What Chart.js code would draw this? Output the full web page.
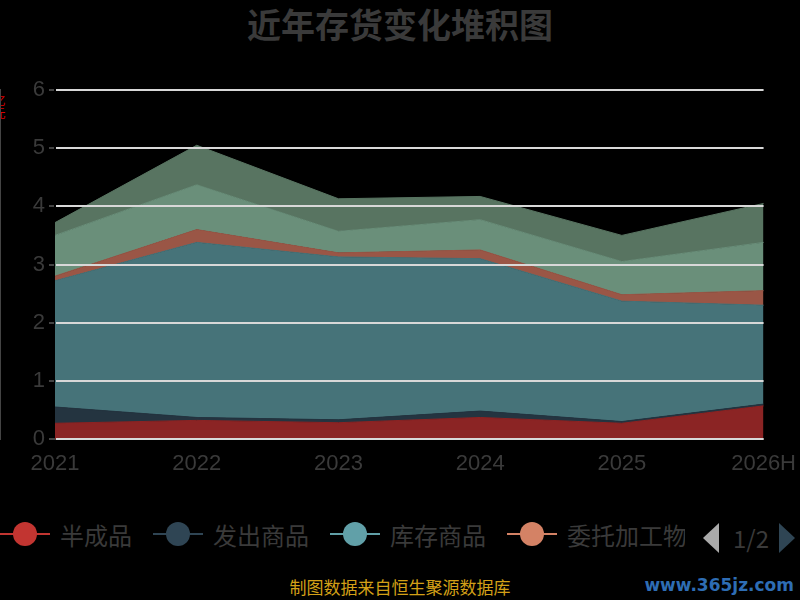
<!DOCTYPE html>
<html><head><meta charset="utf-8">
<script src="https://cdn.jsdelivr.net/npm/chart.js@4/dist/chart.umd.min.js"></script>
<style>
body{margin:0;background:#000;width:800px;height:600px;overflow:hidden;position:relative;font-family:"Noto Sans CJK SC","Noto Sans",sans-serif}
#title{position:absolute;top:0px;left:0;width:800px;text-align:center;color:#3a3a3a;font-size:34px;font-weight:bold;line-height:48px}
#wrap{position:absolute;left:0;top:0;width:800px;height:480px}
#legend{position:absolute;top:514px;left:0;height:40px;white-space:nowrap;color:#3a3a3a;font-size:24px}
.it{position:absolute;top:0;display:flex;align-items:center}
.sym{position:relative;width:50px;height:40px;margin-right:10px}
.sym .ln{position:absolute;left:0;top:19px;width:50px;height:2px}
.sym .dot{position:absolute;left:13px;top:8px;width:24px;height:24px;border-radius:50%}
#foot{position:absolute;top:576px;left:0;width:800px;text-align:center;color:#d4a017;font-size:17px;line-height:22px}
#wm{position:absolute;top:574px;right:6px;color:#2e6db4;font-size:17px;font-weight:bold;font-family:"DejaVu Sans";line-height:22px}
#ytitle{position:absolute;left:0px;top:95px;color:#d00;font-size:12px;writing-mode:vertical-rl;width:8px;overflow:hidden}
</style></head><body>
<div id="title">近年存货变化堆积图</div>
<div id="ytitle">亿元</div>
<div id="wrap"><canvas id="c" width="800" height="480"></canvas></div>
<div id="legend"></div>
<div id="foot">制图数据来自恒生聚源数据库</div>
<div id="wm">www.365jz.com</div>
<script>
const categories=["2021","2022","2023","2024","2025","2026H"];
const seriesNames=["半成品","发出商品","库存商品","委托加工物资","原材料","在产品"];
const banChengPin=[0.27,0.32,0.28,0.37,0.27,0.57];
const faChuShangPin=[0.28,0.05,0.05,0.11,0.03,0.03];
const kuCunShangPin=[2.17,3.01,2.80,2.62,2.07,1.70];
const weiTuoJiaGong=[0.08,0.22,0.07,0.15,0.11,0.25];
const yuanCaiLiao=[0.70,0.77,0.37,0.52,0.57,0.83];
const zaiChanPin=[0.22,0.68,0.56,0.40,0.45,0.67];
const yTicks=[0,1,2,3,4,5,6];
const values=[banChengPin,faChuShangPin,kuCunShangPin,weiTuoJiaGong,yuanCaiLiao,zaiChanPin];
const fills=["#8b2424","#243440","#467379","#9a5646","#6a8f7a","#587461"];
const legendCols=["#c23531","#2f4554","#61a0a8","#d48265"];
const ds=values.map((v,i)=>({label:seriesNames[i],data:v,backgroundColor:fills[i],borderColor:fills[i],borderWidth:1,fill:i===0?'origin':'-1',pointRadius:0,tension:0}));
new Chart(document.getElementById('c'),{type:'line',data:{labels:categories,datasets:ds},
options:{responsive:false,animation:false,devicePixelRatio:1,
layout:{padding:{top:90,right:32,left:0,bottom:0}},
plugins:{legend:{display:false},tooltip:{enabled:false}},
scales:{
x:{offset:false,grid:{display:false},border:{color:'#444',width:2},ticks:{color:'#3a3a3a',font:{size:22},padding:4,maxRotation:0,autoSkip:false},afterFit:s=>{s.height=41}},
y:{stacked:true,min:0,max:6,afterBuildTicks:s=>{s.ticks=yTicks.map(v=>({value:v}))},grid:{color:'#d8d8d8',lineWidth:2,drawTicks:true,tickColor:'#444',tickLength:6,z:1},border:{color:'#444',width:2},ticks:{color:'#3a3a3a',font:{size:22},padding:4},afterFit:s=>{s.width=55}}
}}});
const lg=document.getElementById('legend');
const xs=[0,153,330,507];
seriesNames.slice(0,4).forEach((n,i)=>{const d=document.createElement('div');d.className='it';d.style.left=xs[i]+'px';
d.innerHTML=`<div class="sym"><div class="ln" style="background:${legendCols[i]}"></div><div class="dot" style="background:${legendCols[i]}"></div></div><span style="${i===3?'display:inline-block;width:118px;overflow:hidden':''}">${i===3?'委托加工物':n}</span>`;lg.appendChild(d);});
const pg=document.createElement('div');pg.className='it';pg.style.left='703px';pg.style.top='6px';
pg.innerHTML=`<svg width="18" height="30"><polygon points="16,0 16,30 0,15" fill="#aaa"/></svg><span style="margin:0 10px 0 12px;color:#3a3a3a">1/2</span><svg width="18" height="30"><polygon points="0,0 0,30 16,15" fill="#2f4554"/></svg>`;
lg.appendChild(pg);
</script>
</body></html>
